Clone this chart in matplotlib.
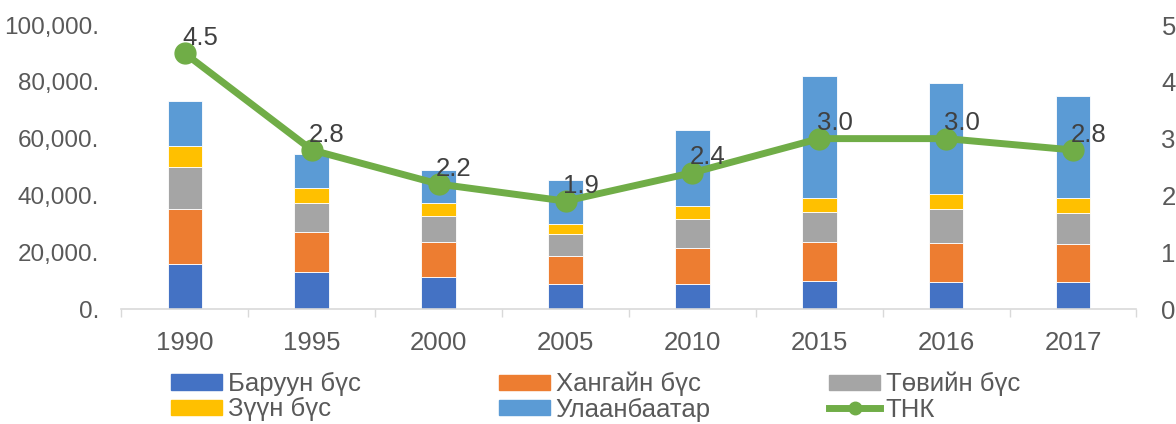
import matplotlib.pyplot as plt
import numpy as np
from matplotlib.lines import Line2D
from matplotlib.patches import Patch

plt.rcParams['font.family'] = ['Liberation Sans', 'DejaVu Sans']

# Data
years = ['1990', '1995', '2000', '2005', '2010', '2015', '2016', '2017']
baruun = [15900, 12900, 11200, 8800, 8800, 9700, 9500, 9500]
khangai = [19200, 14100, 12400, 9800, 12700, 13900, 13800, 13400]
tuv = [14900, 10500, 9200, 7800, 10100, 10500, 11800, 11000]
zuun = [7300, 5100, 4400, 3400, 4700, 5100, 5400, 5300]
ulaanbaatar = [16000, 11900, 11800, 15500, 26900, 43000, 39200, 35900]
tnk = [4.5, 2.8, 2.2, 1.9, 2.4, 3.0, 3.0, 2.8]

series = [
    ('Баруун бүс', baruun, '#4472C4'),
    ('Хангайн бүс', khangai, '#ED7D31'),
    ('Төвийн бүс', tuv, '#A5A5A5'),
    ('Зүүн бүс', zuun, '#FFC000'),
    ('Улаанбаатар', ulaanbaatar, '#5B9BD5'),
]
green = '#70AD47'
text_col = '#595959'

fig = plt.figure(figsize=(11.76, 4.24), dpi=100)
ax = fig.add_axes([0.1033, 0.2712, 0.8631, 0.6698])
x = np.arange(len(years))

# Stacked bars
bottom = np.zeros(len(years))
for name, vals, col in series:
    ax.bar(x, vals, 0.273, bottom=bottom, color=col, edgecolor='white',
           linewidth=0.6, label=name, zorder=2)
    bottom += np.array(vals)

ax.set_xlim(-0.5, len(years) - 0.5)
ax.set_ylim(0, 100000)
ax.set_yticks(np.arange(0, 100001, 20000))
ax.set_yticklabels([f'{v:,}.' for v in range(0, 100001, 20000)])
ax.set_xticks(x)
ax.set_xticklabels(years)
ax.set_xticks(np.arange(-0.5, len(years), 1), minor=True)
ax.tick_params(axis='x', which='major', length=0, pad=15.5, labelsize=18.5, colors=text_col)
ax.tick_params(axis='x', which='minor', length=5.5, width=1, color='#D9D9D9')
ax.tick_params(axis='y', length=0, pad=16, labelsize=17.5, colors=text_col)
for s in ['top', 'right', 'left']:
    ax.spines[s].set_visible(False)
ax.spines['bottom'].set_color('#D9D9D9')
ax.spines['bottom'].set_linewidth(1.2)

# Secondary axis: TNK line
ax2 = ax.twinx()
ax2.plot(x, tnk, color=green, linewidth=5, marker='o', markersize=15, zorder=3)
ax2.set_ylim(0, 5)
ax2.set_yticks(range(0, 6))
ax2.tick_params(axis='y', length=0, pad=18, labelsize=18.5, colors=text_col)
for s in ['top', 'right', 'left', 'bottom']:
    ax2.spines[s].set_visible(False)
for xi, v in zip(x, tnk):
    ax2.annotate(f'{v:.1f}', (xi, v), xytext=(11, 11), textcoords='offset points',
                 ha='center', va='center', fontsize=18.5, color='#404040', zorder=4)

# Legend: three columns placed separately, two rows each
h = {name: Patch(color=col) for name, _, col in series}
h['ТНК'] = Line2D([0], [0], color=green, linewidth=5, marker='o', markersize=9)
columns = [(['Баруун бүс', 'Зүүн бүс'], 171),
           (['Хангайн бүс', 'Улаанбаатар'], 499),
           (['Төвийн бүс', 'ТНК'], 829)]
for names, px in columns:
    leg = fig.legend([h[k] for k in names], names, loc='upper left',
                     bbox_to_anchor=(px / 1176, 1 - 372 / 424), frameon=False,
                     fontsize=18.5, handlelength=2.0, handleheight=0.55,
                     handletextpad=0.2, labelspacing=0.05, borderpad=0, borderaxespad=0)
    for t in leg.get_texts():
        t.set_color(text_col)

fig.savefig('out.png', dpi=100)
